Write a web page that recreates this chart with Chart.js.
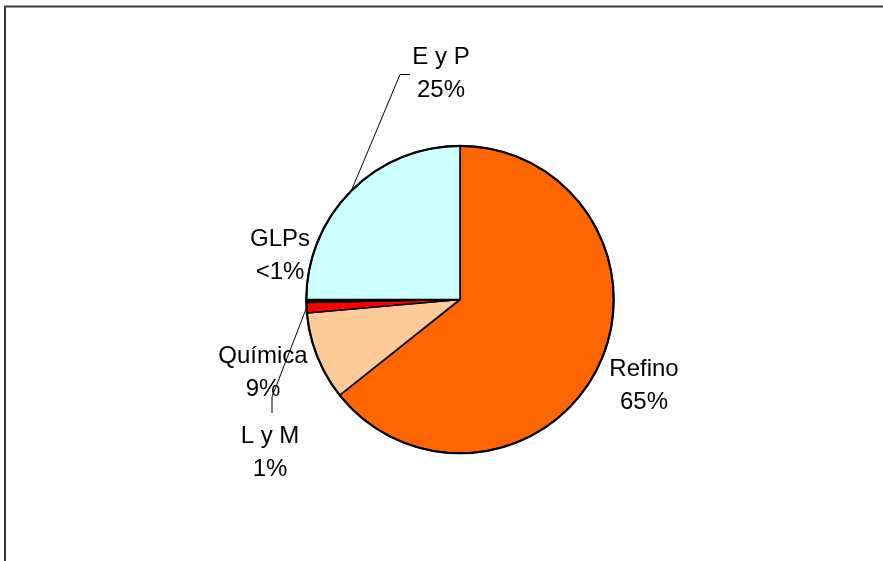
<!DOCTYPE html>
<html>
<head>
<meta charset="utf-8">
<script src="https://cdn.jsdelivr.net/npm/chart.js@4"></script>
<style>
  html, body { margin: 0; padding: 0; background: #ffffff; }
  #wrap { width: 883px; height: 561px; position: relative; }
</style>
</head>
<body>
<div id="wrap"><canvas id="c" width="883" height="561"></canvas></div>
<script>
// ---- data ----
const categories = ["Refino", "Química", "L y M", "GLPs", "E y P"];
const values = [64.3, 9.3, 1.1, 0.3, 25.0];
const valueLabels = ["65%", "9%", "1%", "<1%", "25%"];
const colors = ["#FF6600", "#FFCC99", "#FF0000", "#000000", "#CCFFFF"];

// label layout (text centre x, first baseline y), and leader polylines (label-side points)
const labelPos = [
  { x: 644, y: 376 },
  { x: 263, y: 363 },
  { x: 270, y: 443 },
  { x: 280, y: 246 },
  { x: 441, y: 64 }
];
const leaders = [
  null,
  null,
  [{ x: 272, y: 397 }, { x: 272, y: 413 }],
  null,
  [{ x: 400, y: 74.5 }, { x: 410, y: 74.5 }]
];
const LINE_GAP = 33;
const FONT = '24px "Liberation Sans", Arial, sans-serif';

const framePlugin = {
  id: 'frame',
  beforeDraw(chart) {
    const ctx = chart.ctx;
    ctx.save();
    ctx.fillStyle = '#ffffff';
    ctx.fillRect(0, 0, chart.width, chart.height);
    ctx.strokeStyle = '#3a3a3a';
    ctx.lineWidth = 2;
    ctx.beginPath();
    ctx.moveTo(5, chart.height);
    ctx.lineTo(5, 6.5);
    ctx.lineTo(chart.width, 6.5);
    ctx.stroke();
    ctx.restore();
  }
};

const labelPlugin = {
  id: 'pieLabels',
  afterDraw(chart) {
    const ctx = chart.ctx;
    const meta = chart.getDatasetMeta(0);
    ctx.save();
    // outer outline
    const a0 = meta.data[0].getProps(['x', 'y', 'outerRadius'], true);
    ctx.strokeStyle = '#000000';
    ctx.lineWidth = 2.2;
    ctx.beginPath();
    ctx.arc(a0.x, a0.y, a0.outerRadius, 0, Math.PI * 2);
    ctx.stroke();
    // leader lines
    ctx.lineWidth = 1;
    meta.data.forEach((arc, i) => {
      const pts = leaders[i];
      if (!pts) return;
      const p = arc.getProps(['x', 'y', 'startAngle', 'endAngle', 'outerRadius'], true);
      const mid = (p.startAngle + p.endAngle) / 2;
      const sx = p.x + Math.cos(mid) * p.outerRadius;
      const sy = p.y + Math.sin(mid) * p.outerRadius;
      ctx.beginPath();
      ctx.moveTo(sx, sy);
      pts.forEach(pt => ctx.lineTo(pt.x, pt.y));
      ctx.stroke();
    });
    // texts
    ctx.fillStyle = '#000000';
    ctx.font = FONT;
    ctx.textAlign = 'center';
    ctx.textBaseline = 'alphabetic';
    categories.forEach((name, i) => {
      const lp = labelPos[i];
      ctx.fillText(name, lp.x, lp.y);
      ctx.fillText(valueLabels[i], lp.x, lp.y + LINE_GAP);
    });
    ctx.restore();
  }
};

new Chart(document.getElementById('c'), {
  type: 'pie',
  data: {
    labels: categories,
    datasets: [{
      data: values,
      backgroundColor: colors,
      borderColor: '#000000',
      borderWidth: 1.6
    }]
  },
  options: {
    responsive: false,
    animation: false,
    rotation: 0,
    layout: { padding: { top: 145, bottom: 107, left: 100, right: 63 } },
    plugins: {
      legend: { display: false },
      tooltip: { enabled: false }
    }
  },
  plugins: [framePlugin, labelPlugin]
});
</script>
</body>
</html>
